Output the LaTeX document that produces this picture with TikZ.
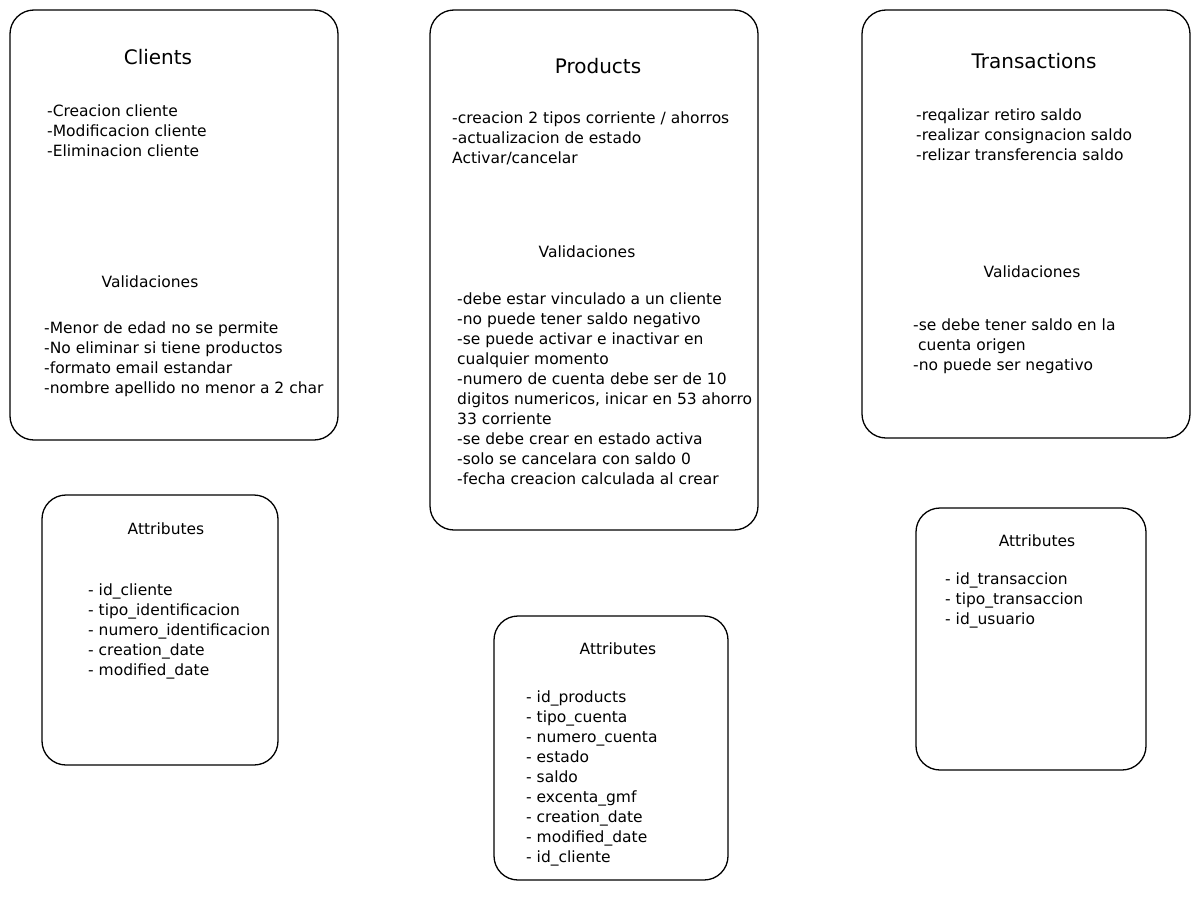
\documentclass[tikz,border=0pt]{standalone}
\usepackage{fontspec}
\setmainfont{DejaVu Sans}
\begin{document}
\begin{tikzpicture}[x=1pt,y=-1pt,
  card/.style={draw=black, line width=1.3pt, rounded corners=24pt, fill=white, inner sep=0pt},
  ttl/.style={font=\fontsize{20}{22}\selectfont, anchor=center, inner sep=0pt},
  sub/.style={font=\fontsize{15.5}{20}\selectfont, anchor=center, inner sep=0pt},
  txt/.style={font=\fontsize{15.5}{20}\selectfont, align=left, anchor=north west, inner sep=0pt}]
\useasboundingbox[fill=white] (0,0) rectangle (1200,897);

% cards
\node[card, minimum width=328pt, minimum height=430pt] (clients) at (174,225) {};
\node[card, minimum width=328pt, minimum height=520pt] (products) at (594,270) {};
\node[card, minimum width=328pt, minimum height=428pt] (transactions) at (1026,224) {};
\node[card, minimum width=236pt, minimum height=270pt] (attrclients) at (160,630) {};
\node[card, minimum width=234pt, minimum height=264pt] (attrproducts) at (611,748) {};
\node[card, minimum width=230pt, minimum height=262pt] (attrtrans) at (1031,639) {};

% Clients
\node[ttl] (clientsTitle) at (158,57) {Clients};
\node[txt] (clientsOps) at (47,105) {-Creacion cliente\\-Modificacion cliente\\-Eliminacion cliente};
\node[sub] (clientsVal) at (150,282) {Validaciones};
\node[txt] (clientsValList) at (44,322) {-Menor de edad no se permite\\-No eliminar si tiene productos\\-formato email estandar\\-nombre apellido no menor a 2 char};

% Products
\node[ttl] (productsTitle) at (598,66) {Products};
\node[txt] (productsOps) at (452,112) {-creacion 2 tipos corriente / ahorros\\-actualizacion de estado\\Activar/cancelar};
\node[sub] (productsVal) at (587,252) {Validaciones};
\node[txt] (productsValList) at (457,293) {-debe estar vinculado a un cliente\\-no puede tener saldo negativo\\-se puede activar e inactivar en\\cualquier momento\\-numero de cuenta debe ser de 10\\digitos numericos, inicar en 53 ahorro\\33 corriente\\-se debe crear en estado activa\\-solo se cancelara con saldo 0\\-fecha creacion calculada al crear};

% Transactions
\node[ttl] (transTitle) at (1034,61) {Transactions};
\node[txt] (transOps) at (916,109) {-reqalizar retiro saldo\\-realizar consignacion saldo\\-relizar transferencia saldo};
\node[sub] (transVal) at (1032,272) {Validaciones};
\node[txt] (transValList) at (913,319) {-se debe tener saldo en la\\\hspace*{5pt}cuenta origen\\-no puede ser negativo};

% Attributes
\node[sub] (attrClientsTitle) at (166,529) {Attributes};
\node[txt] (attrClientsList) at (88,584) {- id\_cliente\\- tipo\_identificacion\\- numero\_identificacion\\- creation\_date\\- modified\_date};

\node[sub] (attrProductsTitle) at (618,649) {Attributes};
\node[txt] (attrProductsList) at (526,691) {- id\_products\\- tipo\_cuenta\\- numero\_cuenta\\- estado\\- saldo\\- excenta\_gmf\\- creation\_date\\- modified\_date\\- id\_cliente};

\node[sub] (attrTransTitle) at (1037,541) {Attributes};
\node[txt] (attrTransList) at (945,573) {- id\_transaccion\\- tipo\_transaccion\\- id\_usuario};
\end{tikzpicture}
\end{document}
